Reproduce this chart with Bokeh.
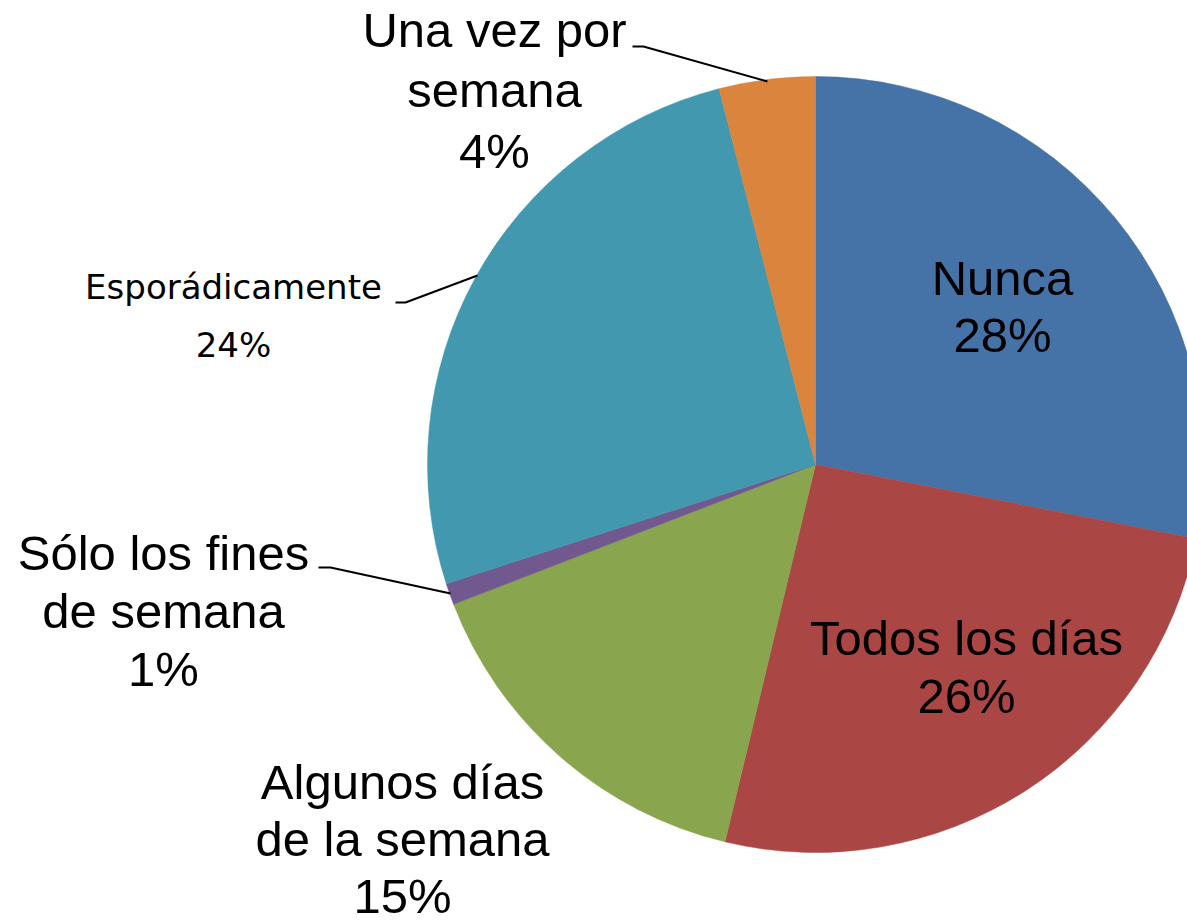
import numpy as np
from bokeh.plotting import figure
from bokeh.models import Range1d, ColumnDataSource
from bokeh.core.properties import value
from bokeh.embed import file_html
from bokeh.resources import INLINE

# ---- data ----
categories = ["Nunca", "Todos los días", "Algunos días\nde la semana",
              "Sólo los fines\nde semana", "Esporádicamente", "Una vez por\nsemana"]
slice_values = [28.1, 25.7, 15.4, 0.9, 26.0, 4.0]   # share of circle, clockwise from top
pct_labels = ["28%", "26%", "15%", "1%", "24%", "4%"]
colors = ["#4572A7", "#AA4643", "#89A54E", "#71588F", "#4198AF", "#DB843D"]

# ---- layout (pixel coordinates, image y downward) ----
W, H = 1187, 921
CX, CY, R = 815, 464, 388
# label: x centre, first baseline, line spacing, font size, font
label_layout = [
    (1002, 295, 57, 49, "Liberation Sans"),
    (966, 655, 58, 49, "Liberation Sans"),
    (402, 799, 57, 49, "Liberation Sans"),
    (163, 570, 58, 49, "Liberation Sans"),
    (233, 299, 58, 34, "DejaVu Sans"),
    (494, 47, 60.5, 49, "Liberation Sans"),
]
leaders = {
    3: [(318, 567), (330, 567), (450, 593)],
    4: [(395, 302), (405, 302), (477, 275)],
    5: [(632, 46), (643, 46), (767, 81)],
}

p = figure(width=W, height=H, output_backend="svg", toolbar_location=None,
           x_range=Range1d(0, W), y_range=Range1d(0, H), min_border=0)
p.axis.visible = False
p.grid.visible = False
p.outline_line_color = None
p.background_fill_color = "white"

vals = np.array(slice_values, dtype=float)
frac = vals / vals.sum()
cum = np.concatenate([[0], np.cumsum(frac)])
start = np.pi / 2 - cum[1:] * 2 * np.pi
end = np.pi / 2 - cum[:-1] * 2 * np.pi

src = ColumnDataSource(dict(start=start, end=end, color=colors))
p.wedge(x=CX, y=H - CY, radius=R, start_angle="start", end_angle="end",
        fill_color="color", line_color="color", line_width=0.5, source=src)

# leader lines
for i, pts in leaders.items():
    xs = [q[0] for q in pts]
    ys = [H - q[1] for q in pts]
    p.line(xs, ys, line_color="black", line_width=2)

# labels
by_font = {}
for i, cat in enumerate(categories):
    lines = cat.split("\n") + [pct_labels[i]]
    x0, b0, dy, fs, font = label_layout[i]
    d = by_font.setdefault(font, dict(x=[], y=[], text=[], size=[]))
    for k, ln in enumerate(lines):
        d["x"].append(x0)
        # compensate renderer's baseline offset
        d["y"].append(H - (b0 + k * dy) + 0.36 * fs)
        d["text"].append(ln)
        d["size"].append(f"{fs}px")
for font, d in by_font.items():
    p.text(x="x", y="y", text="text", source=ColumnDataSource(d), text_font=value(font),
           text_font_size="size", text_align="center", text_baseline="alphabetic",
           text_color="black")

open("out.html", "w").write(file_html(p, INLINE))
